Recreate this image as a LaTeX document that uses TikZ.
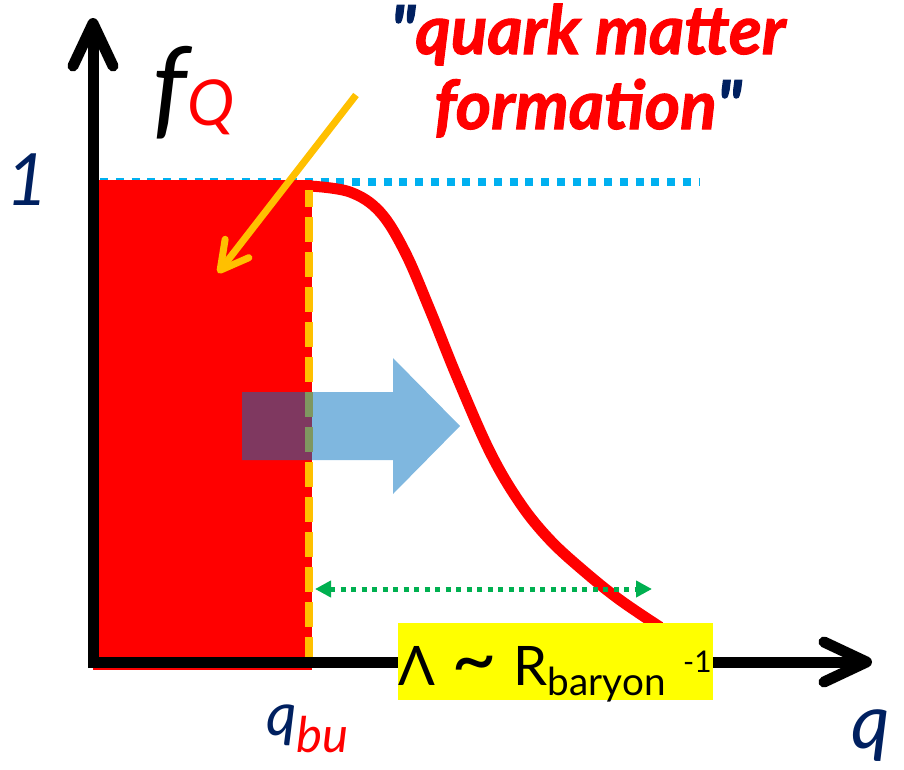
\documentclass[tikz,border=0pt]{standalone}
\usepackage{fontspec}
\setmainfont{Lato}
\newfontfamily\ttlfont{Lato}[BoldItalicFeatures={FakeBold=1.6}]
\usetikzlibrary{arrows.meta}
\definecolor{qmred}{RGB}{255,0,0}
\definecolor{qmnavy}{RGB}{0,32,96}
\definecolor{qmcyan}{RGB}{0,176,240}
\definecolor{qmorange}{RGB}{255,192,0}
\definecolor{qmgreen}{RGB}{0,176,80}
\definecolor{qmblue}{RGB}{0,112,192}
\definecolor{qmyellow}{RGB}{255,255,0}

\begin{document}
\begin{tikzpicture}[x=0.2mm, y=-0.2mm,
  axis/.style={line width=2.2mm, -{Straight Barb[length=8.5mm,width=8mm,round]}},
  dist/.style={qmred, line width=2.2mm, line join=round},
  edge/.style={qmorange, line width=1.6mm, dash pattern=on 5mm off 2mm, dash phase=1.6mm},
  level/.style={qmcyan, line width=1.6mm, dash pattern=on 1.6mm off 1.55mm},
  ptr/.style={qmorange, line width=1.4mm, -{Straight Barb[length=5.5mm,width=6mm,round]}},
  span/.style={qmgreen, line width=1mm, dash pattern=on 1mm off 1.1mm,
               {Triangle[length=3.2mm,width=3.2mm]}-{Triangle[length=3.2mm,width=3.2mm]}},
  ttl/.style={inner sep=0, text=qmred, font=\ttlfont\fontsize{38.5}{38.5}\selectfont\bfseries\itshape},
  lbl/.style={inner sep=0, text=qmnavy},
]
  \useasboundingbox (0,0) rectangle (904,770);

  % saturation level and the filled region
  \draw[level] (100,182) -- (700,182);
  \fill[qmred] (93,180) rectangle (312,670);
  \draw[dist] plot[smooth, tension=0.6] coordinates {(310,186) (350,192) (380,212)
    (405,252) (430,310) (457,377) (490,452) (520,503) (550,540) (585,572) (620,600) (660,627)};
  \draw[edge] (309,190) -- (309,668);

  % axes
  \draw[axis] (93,668) -- (93,18);
  \draw[axis] (97,662) -- (872,662);

  % shift of the edge
  \fill[qmblue, fill opacity=0.5] (242,392) -- (393,392) -- (393,358) -- (460,426)
    -- (393,494) -- (393,460) -- (242,460) -- cycle;

  % width of the edge
  \coordinate (lamL) at (315,589);
  \coordinate (lamR) at (652,589);
  \draw[span] (lamL) -- (lamR);

  % title and its pointer
  \node[ttl, anchor=base] (ttlA) at (588,54) {\textcolor{qmnavy}{"}quark matter};
  \node[ttl, anchor=base] (ttlB) at (588,129) {formation\textcolor{qmnavy}{"}};
  \coordinate (tail) at (356,95);
  \coordinate (tip) at (218,273);
  \draw[ptr] (tail) -- (tip);

  % labels
  \fill[qmyellow] (398,623) rectangle (713,700);
  \node[anchor=base west, inner sep=0, font=\fontsize{31}{31}\selectfont] (lam) at (398,685)
    {Λ\hspace{0.3em}\raisebox{-1pt}{\scalebox{1.45}{\textasciitilde}}\hspace{0.3em}R\raisebox{-5.7pt}{\fontsize{22}{22}\selectfont baryon}\hspace{10pt}\raisebox{7pt}{\fontsize{17}{17}\selectfont -1}};
  \node[lbl, anchor=base, font=\fontsize{41}{41}\selectfont\itshape] (one) at (27,205) {1};
  \node[anchor=base west, inner sep=0, font=\fontsize{62}{62}\selectfont\itshape] (fq) at (152,125)
    {f\textcolor{qmred}{\fontsize{36}{36}\selectfont Q}};
  \node[lbl, anchor=base west, font=\fontsize{34}{34}\selectfont\itshape] (qbu) at (266,735)
    {q\raisebox{-10pt}{\textcolor{qmred}{\fontsize{28}{28}\selectfont bu}}};
  \node[lbl, anchor=base, font=\fontsize{43}{43}\selectfont\itshape] (qax) at (871,748) {q};
\end{tikzpicture}
\end{document}
